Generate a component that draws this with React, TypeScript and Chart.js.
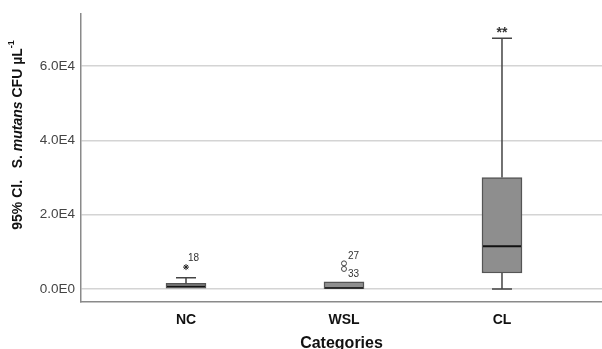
import React, { useEffect, useRef } from "react";
import { Chart, registerables } from "chart.js";

Chart.register(...registerables);

const categories = ["NC", "WSL", "CL"];
const q1 = [0, 100, 4300];
const q3 = [1500, 1900, 30000];
const medians = [700, 300, 11500];
const whiskerLow = [0, 0, 0];
const whiskerHigh = [3000, 1900, 67500];

const starOutliers = [{ x: 1, y: 5900, label: "18" }];
const circleOutliers = [
  { x: 2, y: 6900, label: "27" },
  { x: 2, y: 5400, label: "33" },
];
const extremeMarks = [{ x: 3, y: 69500, label: "**" }];

const yTicks = [0, 20000, 40000, 60000];
const yTickLabels = ["0.0E0", "2.0E4", "4.0E4", "6.0E4"];

const boxPlugin = {
  id: "boxExtras",
  afterDatasetsDraw(chart: any) {
    const { ctx, scales } = chart;
    const xs = scales.x;
    const ys = scales.y;
    ctx.save();
    ctx.strokeStyle = "#444";
    ctx.lineWidth = 1.5;
    for (let i = 0; i < categories.length; i++) {
      const cx = xs.getPixelForValue(i + 1);
      const hi = ys.getPixelForValue(whiskerHigh[i]);
      const lo = ys.getPixelForValue(whiskerLow[i]);
      const top = ys.getPixelForValue(q3[i]);
      const bot = ys.getPixelForValue(q1[i]);
      ctx.beginPath();
      if (whiskerHigh[i] > q3[i]) {
        ctx.moveTo(cx, top);
        ctx.lineTo(cx, hi);
        ctx.moveTo(cx - 10, hi);
        ctx.lineTo(cx + 10, hi);
      }
      if (whiskerLow[i] < q1[i] && q1[i] - whiskerLow[i] > 1000) {
        ctx.moveTo(cx, bot);
        ctx.lineTo(cx, lo);
        ctx.moveTo(cx - 10, lo);
        ctx.lineTo(cx + 10, lo);
      }
      ctx.stroke();
      const m = ys.getPixelForValue(medians[i]);
      ctx.beginPath();
      ctx.strokeStyle = "#111";
      ctx.lineWidth = q3[i] - q1[i] > 5000 ? 2 : 1.2;
      ctx.moveTo(cx - 19, m);
      ctx.lineTo(cx + 19, m);
      ctx.stroke();
      ctx.strokeStyle = "#444";
      ctx.lineWidth = 1.5;
    }
    ctx.fillStyle = "#333";
    ctx.font = "10px 'Liberation Sans', Arial, sans-serif";
    ctx.textBaseline = "middle";
    ctx.textAlign = "left";
    const s = starOutliers[0];
    ctx.fillText(s.label, xs.getPixelForValue(s.x) + 2, ys.getPixelForValue(s.y) - 9);
    const c1 = circleOutliers[0];
    ctx.fillText(c1.label, xs.getPixelForValue(c1.x) + 4, ys.getPixelForValue(c1.y) - 7);
    const c2 = circleOutliers[1];
    ctx.fillText(c2.label, xs.getPixelForValue(c2.x) + 4, ys.getPixelForValue(c2.y) + 5);
    const e = extremeMarks[0];
    ctx.font = "bold 14px 'Liberation Sans', Arial, sans-serif";
    ctx.textAlign = "center";
    ctx.fillText(e.label, xs.getPixelForValue(e.x), ys.getPixelForValue(e.y) + 2);
    ctx.restore();
  },
  afterDraw(chart: any) {
    const { ctx, chartArea } = chart;
    ctx.save();
    const parts = [
      { t: "95% Cl.   S. ", f: "bold 14px 'Liberation Sans', Arial, sans-serif", dy: 0 },
      { t: "mutans", f: "italic bold 14px 'Liberation Sans', Arial, sans-serif", dy: 0 },
      { t: " CFU \u00b5L", f: "bold 14px 'Liberation Sans', Arial, sans-serif", dy: 0 },
      { t: "-1", f: "bold 9px 'Liberation Sans', Arial, sans-serif", dy: -6 },
    ];
    let total = 0;
    for (const p of parts) {
      ctx.font = p.f;
      total += ctx.measureText(p.t).width;
    }
    ctx.translate(18, 135);
    ctx.rotate(-Math.PI / 2);
    ctx.fillStyle = "#111";
    ctx.textBaseline = "middle";
    ctx.textAlign = "left";
    let x = -total / 2;
    for (const p of parts) {
      ctx.font = p.f;
      ctx.fillText(p.t, x, p.dy);
      x += ctx.measureText(p.t).width;
    }
    ctx.restore();
    ctx.save();
    ctx.fillStyle = "#111";
    ctx.font = "bold 16px 'Liberation Sans', Arial, sans-serif";
    ctx.textAlign = "center";
    ctx.textBaseline = "alphabetic";
    ctx.fillText("Categories", (chartArea.left + chartArea.right) / 2, 348);
    ctx.restore();
  },
};

export default function App() {
  const ref = useRef<HTMLCanvasElement>(null);
  useEffect(() => {
    if (!ref.current) return;
    const chart = new Chart(ref.current, {
      type: "bar",
      data: {
        datasets: [
          {
            type: "bar",
            data: categories.map((c, i) => ({ x: i + 1, y: [q1[i], q3[i]] })) as any,
            backgroundColor: "#8e8e8e",
            borderColor: "#555",
            borderWidth: 1.5,
            borderSkipped: false,
            barThickness: 40,
          } as any,
          {
            type: "scatter",
            data: starOutliers.map((p) => ({ x: p.x, y: p.y })),
            pointStyle: "star",
            radius: 3,
            borderColor: "#222",
            borderWidth: 1,
          } as any,
          {
            type: "scatter",
            data: circleOutliers.map((p) => ({ x: p.x, y: p.y })),
            pointStyle: "circle",
            radius: 2.5,
            backgroundColor: "#fff",
            borderColor: "#444",
            borderWidth: 1,
          } as any,
        ],
      },
      options: {
        animation: false,
        responsive: false,
        maintainAspectRatio: false,
        layout: { autoPadding: false, padding: { top: 14, left: 0, right: 0, bottom: 0 } },
        plugins: { legend: { display: false }, tooltip: { enabled: false } },
        scales: {
          x: {
            type: "linear",
            offset: false,
            min: 0.3354,
            max: 3.633,
            grid: { display: false, drawTicks: false },
            border: { display: true, color: "#8a8a8a", width: 1.5 },
            afterBuildTicks: (s: any) => {
              s.ticks = categories.map((c, i) => ({ value: i + 1 }));
            },
            afterFit: (s: any) => {
              s.height = 47;
            },
            ticks: {
              padding: 10,
              color: "#111",
              font: { family: "'Liberation Sans', Arial, sans-serif", size: 14, weight: "bold" },
              callback: (v: any) => categories[Math.round(v) - 1] ?? "",
            },
          },
          y: {
            type: "linear",
            min: -3500,
            max: 74000,
            grid: { color: "#d4d4d4", lineWidth: 1.5, drawTicks: false },
            border: { display: true, color: "#8a8a8a", width: 1.5 },
            afterBuildTicks: (s: any) => {
              s.ticks = yTicks.map((v) => ({ value: v }));
            },
            afterFit: (s: any) => {
              s.width = 81;
            },
            ticks: {
              padding: 6,
              color: "#444",
              font: { family: "'Liberation Sans', Arial, sans-serif", size: 13.5 },
              callback: (v: any) => {
                const i = yTicks.indexOf(v);
                return i >= 0 ? yTickLabels[i] : "";
              },
            },
          },
        },
      },
      plugins: [boxPlugin],
    });
    return () => chart.destroy();
  }, []);
  return (
    <div style={{ position: "absolute", left: 0, top: 0, width: 602, height: 349, background: "#fff" }}>
      <canvas ref={ref} width={602} height={349} style={{ width: 602, height: 349 }} />
    </div>
  );
}
